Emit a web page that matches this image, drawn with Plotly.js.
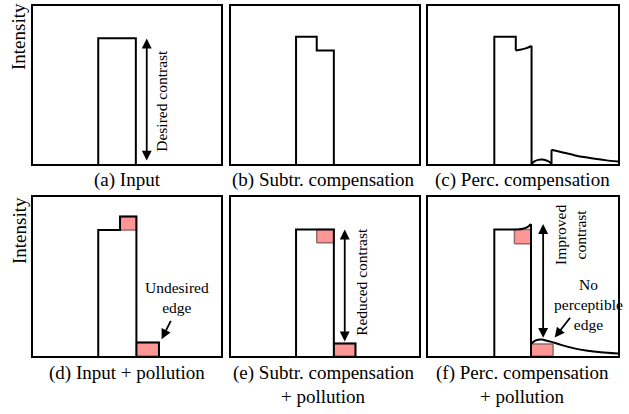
<!DOCTYPE html>
<html>
<head>
<meta charset="utf-8">
<script src="https://cdn.plot.ly/plotly-3.0.1.min.js"></script>
<style>html,body{margin:0;padding:0;background:#fff;}#chart{width:629px;height:414px;}</style>
</head>
<body>
<div id="chart"></div>
<script>
// ---------- data (percent of panel width / height) ----------
// (a) Input
const inputX = [34.7, 34.7, 54.7, 54.7];
const inputY = [0, 79.6, 79.6, 0];
// (b) Subtractive compensation
const subtrX = [34.6, 34.6, 45.6, 45.6, 54.7, 54.7];
const subtrY = [0, 80.6, 80.6, 71.9, 71.9, 0];
// (c) Perceptual compensation
const percStepX = [34.9, 34.9, 46.2, 46.2];
const percStepY = [0, 80.6, 80.6, 71.9];
const percTopCurveX = [46.2, 48.5, 51, 53, 54.5];
const percTopCurveY = [71.9, 72.3, 73.0, 73.9, 74.8];
const percDropX = [54.5, 54.5];
const percDropY = [74.8, 0];
const percBumpX = [54.5, 56, 58, 60, 62, 64, 65];
const percBumpY = [0, 1.6, 2.6, 2.8, 2.4, 1.3, 0];
const percRiseX = [65, 65];
const percRiseY = [0, 9];
const percTailX = [65, 70, 77, 83, 89, 94, 100];
const percTailY = [9, 7.6, 5.6, 4.2, 3.1, 2.3, 1.6];
// (d) Input + pollution
const inPollX = [34.7, 34.7, 46.3, 46.3, 55, 55];
const inPollY = [0, 79.3, 79.3, 87.8, 87.8, 0];
const inPollTopX = [46.3, 55, 55, 46.3, 46.3];
const inPollTopY = [79.3, 79.3, 87.8, 87.8, 79.3];
const inPollEdgeX = [55, 67, 67, 55, 55];
const inPollEdgeY = [0, 0, 8.5, 8.5, 0];
const inPollEdgeLineX = [55, 67, 67];
const inPollEdgeLineY = [8.5, 8.5, 0];
// (e) Subtractive compensation + pollution
const subPollX = [34.6, 34.6, 54.7, 54.7];
const subPollY = [0, 79.5, 79.5, 0];
const subPollTopX = [45.6, 54.7, 54.7, 45.6, 45.6];
const subPollTopY = [71.2, 71.2, 79.5, 79.5, 71.2];
const subPollEdgeX = [54.7, 66.2, 66.2, 54.7, 54.7];
const subPollEdgeY = [0, 0, 7.9, 7.9, 0];
const subPollEdgeLineX = [54.7, 66.2, 66.2];
const subPollEdgeLineY = [7.9, 7.9, 0];
// (f) Perceptual compensation + pollution
const percPollX = [34.9, 34.9, 47];
const percPollY = [0, 79.5, 79.5];
const percPollCurveX = [47, 50, 52.5, 54.2];
const percPollCurveY = [79.5, 80.0, 81.2, 83.0];
const percPollDropX = [54.2, 54.2];
const percPollDropY = [83.0, 0];
const percPollTopX = [45.5, 54.2, 54.2, 45.5, 45.5];
const percPollTopY = [70.6, 70.6, 79.5, 79.5, 70.6];
const percPollEdgeX = [54.2, 65.8, 65.8, 54.2, 54.2];
const percPollEdgeY = [0, 0, 7.5, 7.5, 0];
const percPollBumpX = [54.2, 56, 58, 60, 62, 65, 70, 77, 84, 91, 100];
const percPollBumpY = [7.5, 9.3, 10.2, 10.3, 9.8, 8.9, 7.0, 4.8, 3.3, 2.3, 1.5];

const captions = ["(a) Input", "(b) Subtr. compensation", "(c) Perc. compensation",
                  "(d) Input + pollution", "(e) Subtr. compensation", "(f) Perc. compensation"];
const captionSecond = "+ pollution";
const yLabel = "Intensity";

// ---------- drawing ----------
const BLACK = '#000';
const PINK = 'rgb(255,150,150)';
const PINK_EDGE = 'rgb(150,105,105)';
const FONT = 'Liberation Serif, Times New Roman, serif';

function ax(n) { return n === 1 ? '' : String(n); }
function outline(xs, ys, n, shape) {
  return {x: xs, y: ys, xaxis: 'x' + ax(n), yaxis: 'y' + ax(n), mode: 'lines', hoverinfo: 'skip',
          line: {color: BLACK, width: 2, shape: shape || 'linear', smoothing: 0.8}};
}
function patch(xs, ys, n) {
  return {x: xs, y: ys, xaxis: 'x' + ax(n), yaxis: 'y' + ax(n), mode: 'lines', fill: 'toself',
          fillcolor: PINK, hoverinfo: 'skip', line: {color: PINK_EDGE, width: 1.5}};
}

const traces = [
  outline(inputX, inputY, 1),
  outline(subtrX, subtrY, 2),
  outline(percStepX, percStepY, 3),
  outline(percTopCurveX, percTopCurveY, 3, 'spline'),
  outline(percDropX, percDropY, 3),
  outline(percBumpX, percBumpY, 3, 'spline'),
  outline(percRiseX, percRiseY, 3),
  outline(percTailX, percTailY, 3, 'spline'),
  patch(inPollTopX, inPollTopY, 4),
  patch(inPollEdgeX, inPollEdgeY, 4),
  outline(inPollX, inPollY, 4),
  outline(inPollEdgeLineX, inPollEdgeLineY, 4),
  patch(subPollTopX, subPollTopY, 5),
  patch(subPollEdgeX, subPollEdgeY, 5),
  outline(subPollX, subPollY, 5),
  outline(subPollEdgeLineX, subPollEdgeLineY, 5),
  patch(percPollTopX, percPollTopY, 6),
  patch(percPollEdgeX, percPollEdgeY, 6),
  outline(percPollX, percPollY, 6),
  outline(percPollCurveX, percPollCurveY, 6, 'spline'),
  outline(percPollDropX, percPollDropY, 6),
  outline(percPollBumpX, percPollBumpY, 6, 'spline')
];

const W = 629, H = 414;
const colsPx = [[33, 221], [231, 419], [428, 618]];
const rowsPx = [[6, 164], [197, 356]];
const layout = {
  width: W, height: H, margin: {l: 0, r: 0, t: 0, b: 0},
  paper_bgcolor: '#fff', plot_bgcolor: '#fff', showlegend: false,
  font: {family: FONT, color: BLACK},
  annotations: []
};
for (let i = 0; i < 6; i++) {
  const c = colsPx[i % 3], r = rowsPx[Math.floor(i / 3)];
  const axisCommon = {range: [0, 100], showline: true, mirror: true, linecolor: BLACK, linewidth: 2,
                      showgrid: false, zeroline: false, showticklabels: false, ticks: '', fixedrange: true};
  layout['xaxis' + ax(i + 1)] = Object.assign({}, axisCommon, {domain: [c[0] / W, c[1] / W], anchor: 'y' + ax(i + 1)});
  layout['yaxis' + ax(i + 1)] = Object.assign({}, axisCommon, {domain: [1 - r[1] / H, 1 - r[0] / H], anchor: 'x' + ax(i + 1)});
}

const A = layout.annotations;
// captions
const capX = [127, 323, 522, 127, 323, 522];
const capY = [180, 180, 180, 373, 373, 373];
for (let i = 0; i < 6; i++) {
  A.push({xref: 'paper', yref: 'paper', x: capX[i] / W, y: 1 - capY[i] / H, xanchor: 'center', yanchor: 'middle',
          text: captions[i], showarrow: false, font: {size: 19, family: FONT, color: BLACK}});
}
[323, 522].forEach(px => A.push({xref: 'paper', yref: 'paper', x: px / W, y: 1 - 396 / H, xanchor: 'center',
  yanchor: 'middle', text: captionSecond, showarrow: false, font: {size: 19, family: FONT, color: BLACK}}));
// y labels
[37, 231].forEach(py => A.push({xref: 'paper', yref: 'paper', x: 19 / W, y: 1 - py / H, xanchor: 'center',
  yanchor: 'middle', text: yLabel, textangle: -90, showarrow: false, font: {size: 19, family: FONT, color: BLACK}}));

function dbl(n, x, y0, y1) {
  A.push({xref: 'x' + ax(n), yref: 'y' + ax(n), axref: 'x' + ax(n), ayref: 'y' + ax(n), x: x, y: y1, ax: x, ay: y0,
          text: '', showarrow: true, arrowside: 'end+start', arrowhead: 2, startarrowhead: 2, arrowsize: 1.1,
          startarrowsize: 1.1, arrowwidth: 1.8, arrowcolor: BLACK, standoff: 0, startstandoff: 0});
}
function single(n, x0, y0, x1, y1) {
  A.push({xref: 'x' + ax(n), yref: 'y' + ax(n), axref: 'x' + ax(n), ayref: 'y' + ax(n), x: x1, y: y1, ax: x0, ay: y0,
          text: '', showarrow: true, arrowhead: 2, arrowsize: 1.1, arrowwidth: 1.8, arrowcolor: BLACK, standoff: 0});
}
function label(n, x, y, text, angle) {
  A.push({xref: 'x' + ax(n), yref: 'y' + ax(n), x: x, y: y, text: text, textangle: angle || 0, showarrow: false,
          xanchor: 'center', yanchor: 'middle', font: {size: 15.5, family: FONT, color: BLACK}});
}
dbl(1, 60.5, 1.2, 79.4);
label(1, 68.6, 40, 'Desired contrast', -90);
label(4, 76.8, 37, 'Undesired<br>edge');
single(4, 73.7, 23, 68.4, 10.6);
dbl(5, 60.5, 8.2, 79.5);
label(5, 69.3, 46.8, 'Reduced contrast', -90);
dbl(6, 60.6, 10.5, 83);
label(6, 75, 76.4, 'Improved<br>contrast', -90);
label(6, 84.6, 32.3, 'No<br>perceptible<br>edge');
single(6, 75.4, 25, 66.7, 11.6);

Plotly.newPlot('chart', traces, layout, {staticPlot: true, displayModeBar: false});
</script>
</body>
</html>
